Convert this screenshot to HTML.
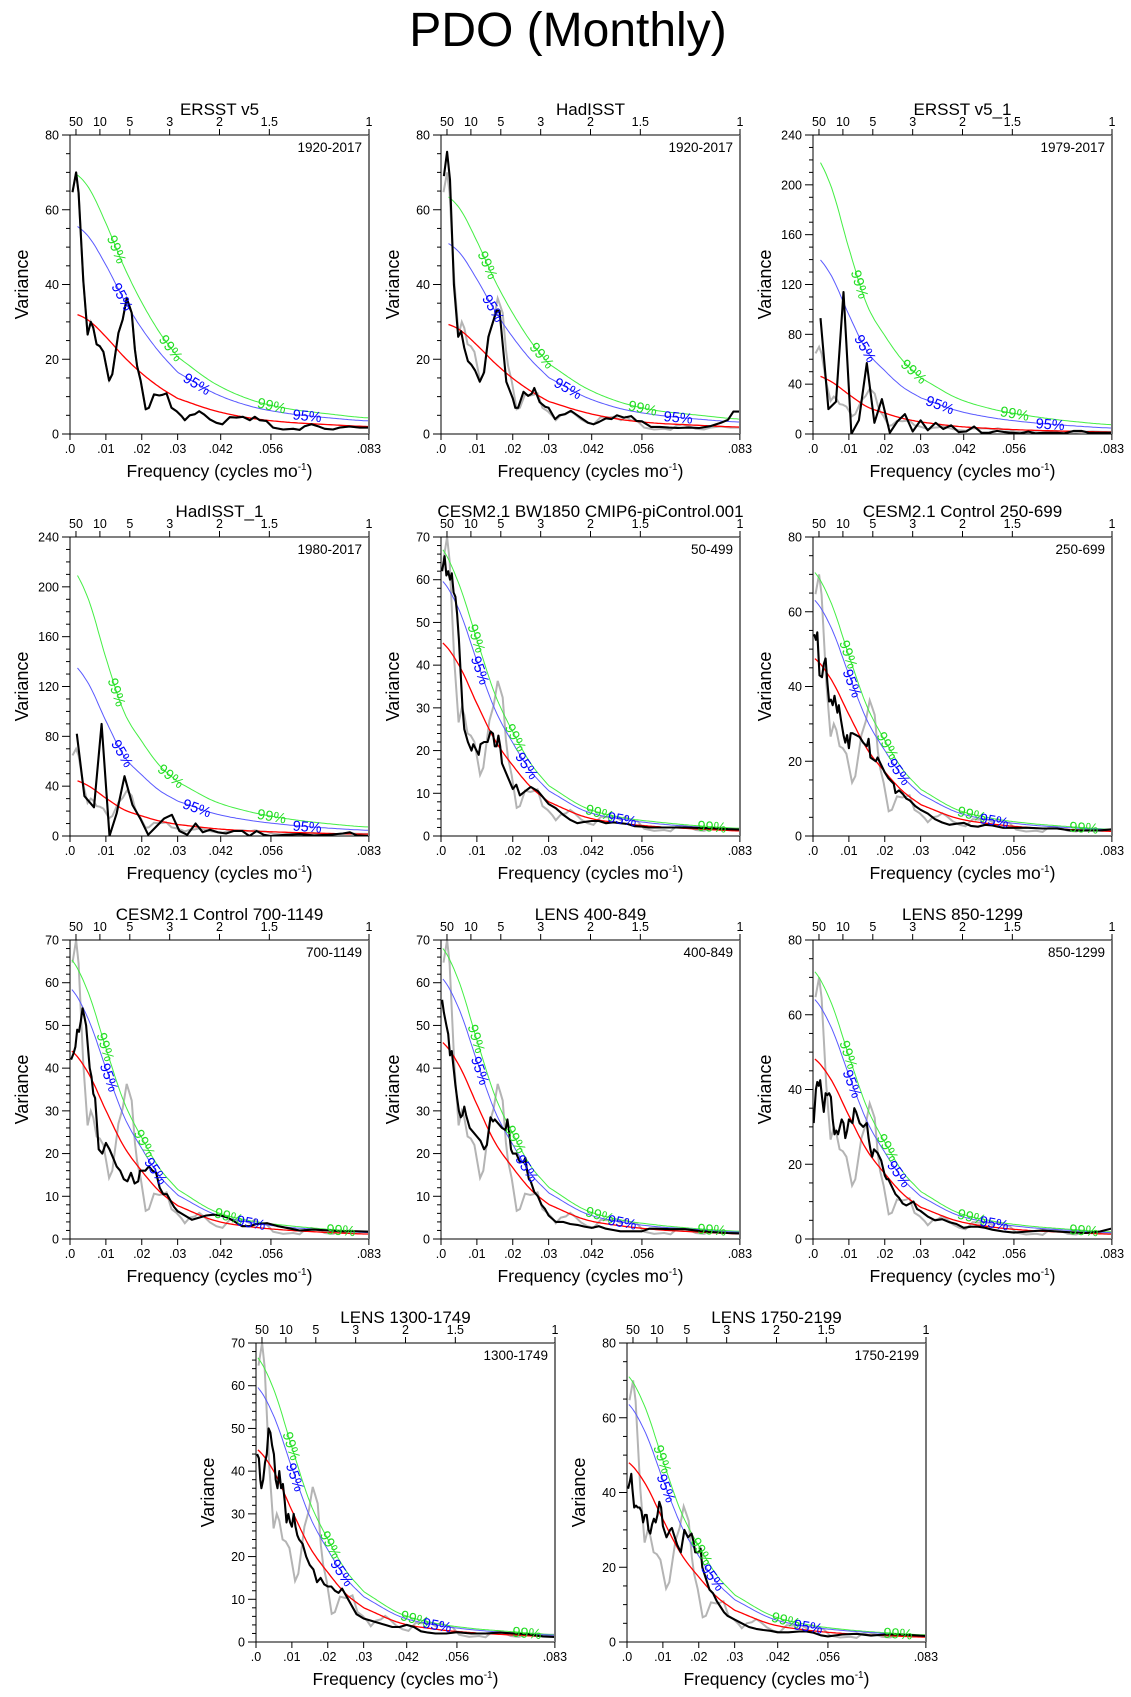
<!DOCTYPE html>
<html><head><meta charset="utf-8"><style>
html,body{margin:0;padding:0;background:#fff;}
svg{display:block;font-family:"Liberation Sans",sans-serif;}
</style></head><body>
<svg id="fig" width="1131" height="1697" viewBox="0 0 1131 1697" xmlns="http://www.w3.org/2000/svg">
<rect width="1131" height="1697" fill="#fff"/>
<text x="568" y="46" font-size="48" text-anchor="middle">PDO (Monthly)</text>
</svg>
<script>
// ---------- shared data ----------
const confFreq = [0,.005,.01,.015,.02,.025,.03,.04,.05,.06,.07,.0833];
const xTickValues = [0,.01,.02,.03,.042,.056,.0833];
const xTickLabels = [".0",".01",".02",".03",".042",".056",".083"];
const periodTicks = [50,10,5,3,2,1.5,1];
const obsLabelF99 = [.0125,.028,.056];
const obsLabelF95 = [.0145,.035,.066];
const modLabelF99 = [.0095,.0205,.044,.075];
const modLabelF95 = [.0105,.0235,.0505];
// reference ERSST v5 spectrum (gray)
const grayErsst = [[.0007,64.7],[.0017,70],[.0024,64.5],[.0037,41],[.0049,26.6],[.0058,30],[.0065,28.4],[.0074,24],[.0083,23.5],[.0093,22],[.0109,14.3],[.0118,16],[.0135,27],[.0147,30.6],[.0158,36.3],[.0165,34.4],[.0172,32.4],[.0181,22.6],[.0187,18.2],[.0197,14.2],[.0211,6.6],[.022,7],[.0234,10.6],[.0249,10.3],[.0258,10.5],[.0269,10.9],[.0283,7],[.0297,6.1],[.0311,4.8],[.032,3.7],[.0334,5],[.0348,5.3],[.036,6.1],[.0373,5.3],[.039,3.9],[.0408,3],[.0425,2.6],[.0445,4.5],[.0464,4.4],[.0482,4.6],[.0501,3.7],[.0515,4.6],[.0529,3.7],[.0547,3.5],[.0566,1.7],[.0594,1.2],[.0622,1.4],[.064,1.1],[.0654,2.1],[.0673,2.6],[.0691,2.1],[.071,1.4],[.0733,1.2],[.0751,1.7],[.0779,2],[.0807,1.7],[.0833,1.7]];
// ---------- panel spectra (black) ----------
const blackHadisst = [[.0008,69],[.0017,75.5],[.0025,68],[.0036,40],[.0048,26],[.0056,27.5],[.0065,23],[.0075,19.5],[.0085,18.5],[.0095,17],[.0108,14],[.012,16.5],[.0132,26],[.0145,30],[.0155,33],[.0163,33],[.0172,24],[.0182,14],[.019,12],[.02,9.5],[.0207,7],[.0215,7],[.023,11.3],[.0243,10.2],[.0253,10.8],[.026,12.3],[.0275,8.5],[.029,7.3],[.03,7],[.0318,4],[.033,5],[.0345,5.3],[.0362,6.2],[.038,5],[.0395,4],[.041,3],[.0425,2.6],[.044,3.2],[.046,4.2],[.0475,4],[.049,5],[.051,4.4],[.053,4.8],[.0545,3.5],[.056,3.4],[.0585,1.9],[.061,1.9],[.0635,1.7],[.066,1.6],[.069,1.7],[.072,1.6],[.075,2.1],[.078,3],[.080,3.8],[.0815,6],[.0833,6]];
const blackErsst1 = [[.0021,93],[.0043,20],[.0064,26],[.0085,114],[.0107,0],[.0128,11],[.015,57],[.0171,9],[.0192,28],[.0214,1],[.0235,10],[.0256,16],[.0278,2],[.03,11],[.032,3],[.0342,9],[.0363,4],[.0385,7],[.0406,1.5],[.0427,2],[.0449,6],[.047,1],[.049,1],[.0513,2.5],[.0534,1.5],[.0556,1],[.0577,.5],[.06,2],[.062,.5],[.064,1],[.066,1],[.068,1],[.070,.5],[.0727,2.5],[.0748,2.5],[.077,1],[.079,1],[.0833,1]];
const blackHadisst1 = [[.0019,82],[.004,32],[.0067,23],[.0088,90],[.011,0],[.013,18],[.0152,48],[.0174,25],[.0196,14],[.0218,1],[.0242,8],[.0262,14],[.0284,17],[.0305,4],[.0327,1],[.035,10],[.037,3],[.039,5],[.0412,3],[.0435,2],[.0456,4],[.048,4],[.050,0],[.052,4],[.054,1],[.056,0],[.060,1],[.064,1.5],[.068,.5],[.072,1],[.076,2],[.078,3],[.080,.5],[.0833,0]];
const blackBw1850 = [[.0003,62],[.001,65.5],[.0015,61],[.002,62],[.0025,60],[.003,61.5],[.0035,57],[.004,56],[.0045,52],[.005,46],[.0055,38],[.006,30],[.0065,25],[.0075,22],[.0085,20],[.009,21.5],[.0105,19],[.011,21.5],[.012,22],[.013,22],[.0138,24.5],[.0145,24],[.015,21],[.0155,21],[.016,23.5],[.0165,21],[.017,17],[.0185,14],[.0195,12],[.02,11],[.021,12],[.022,9.5],[.0235,10.5],[.025,11.5],[.027,10.5],[.0285,9],[.03,7.5],[.032,6.5],[.034,5],[.036,3.8],[.038,3],[.04,3.3],[.042,3.5],[.044,3.5],[.046,3],[.048,3.2],[.05,3],[.052,2.8],[.054,2.3],[.056,2.2],[.058,2],[.06,2],[.064,2],[.068,2],[.072,1.9],[.076,1.8],[.080,1.6],[.0833,1.5]];
const blackCtl250 = [[.0003,54],[.0008,52.5],[.0012,54.5],[.0018,43],[.0025,42.5],[.003,46],[.0035,47.5],[.004,41],[.0045,36],[.005,36.5],[.0055,35],[.006,37.5],[.0068,33],[.0072,35],[.0078,31],[.0085,27],[.009,25],[.0095,27],[.01,23.5],[.0105,27.5],[.011,27.5],[.012,27],[.013,26.5],[.014,25],[.015,24],[.0155,26],[.016,21],[.0175,20],[.018,21],[.019,19],[.02,17],[.021,15.5],[.0225,14],[.023,11.5],[.024,12.2],[.025,11.3],[.026,10],[.027,9.5],[.0285,8],[.03,7],[.032,6],[.034,4.5],[.036,3.6],[.038,3],[.04,3.3],[.042,3.5],[.044,2.7],[.046,2.5],[.048,3],[.05,2.8],[.053,2.2],[.056,2.2],[.06,2.2],[.064,2],[.068,2],[.072,1.5],[.076,1.5],[.080,1.5],[.0833,1.8]];
const blackCtl700 = [[.0003,42],[.001,43.5],[.0015,45],[.002,49],[.0025,48.5],[.003,51],[.0035,54],[.004,52],[.0045,50],[.005,45],[.0055,40],[.006,38],[.0065,34],[.007,33],[.0075,27],[.008,21],[.009,20],[.01,22.5],[.011,21],[.012,19],[.013,17],[.014,16],[.015,14],[.016,13.5],[.017,15.5],[.018,13],[.019,13.5],[.0195,16],[.021,16],[.022,17],[.023,16],[.024,15.5],[.025,12],[.026,10.5],[.027,10.5],[.028,9],[.029,7.5],[.03,6.5],[.032,5.5],[.034,4.5],[.036,5],[.038,5.5],[.04,5.7],[.042,5.5],[.044,5],[.046,4],[.048,3],[.05,3],[.052,3.5],[.055,3.7],[.058,3],[.061,2.5],[.064,2],[.068,2.2],[.072,2],[.076,1.8],[.080,1.8],[.0833,1.7]];
const blackLens400 = [[.0003,56],[.0008,53],[.0015,50],[.002,48],[.0025,43],[.003,44],[.0035,40],[.004,36],[.0045,33],[.005,30],[.0055,28.5],[.006,29],[.0065,31],[.007,29],[.008,26],[.009,25],[.01,24],[.011,23],[.012,21],[.0128,22],[.0138,28.5],[.0145,27.5],[.015,28],[.016,27],[.017,26],[.018,25.5],[.0185,28],[.019,25],[.0195,21],[.02,20],[.021,20],[.022,18],[.023,18],[.0235,19],[.024,16],[.0245,14],[.025,13.5],[.026,11],[.027,10],[.028,8],[.029,7],[.03,5.5],[.032,4],[.034,4],[.036,3.5],[.038,3.3],[.04,2.9],[.042,2.6],[.044,3],[.046,2.4],[.048,2.1],[.05,1.8],[.053,1.8],[.056,1.8],[.058,2.4],[.06,2.4],[.064,2.3],[.068,2.3],[.072,1.9],[.076,1.6],[.080,1.4],[.0833,1.3]];
const blackLens850 = [[.0002,31],[.0008,40],[.0012,42],[.0016,41],[.002,42.5],[.0025,38],[.003,34],[.0035,39],[.004,38.5],[.0045,39],[.005,38],[.0055,32],[.006,28],[.0065,29],[.007,28],[.008,32],[.0085,31],[.009,27],[.0095,29],[.01,32],[.011,31],[.0115,35],[.012,34],[.013,31],[.014,30],[.015,31],[.0155,27],[.016,24],[.0165,22],[.017,24],[.018,23],[.019,21],[.02,17],[.0205,16],[.021,16],[.022,14],[.023,12],[.024,11],[.025,9.5],[.026,9],[.027,9.5],[.028,10],[.029,8],[.03,7.5],[.032,6],[.034,5],[.036,5.3],[.038,4.5],[.04,4],[.042,3],[.044,3.3],[.046,3.3],[.048,3],[.05,2.5],[.053,2],[.056,1.7],[.06,2],[.064,2.3],[.068,2],[.072,1.8],[.076,1.6],[.080,2],[.0833,2.8]];
const blackLens1300 = [[.0003,44],[.0008,43],[.0012,38],[.0015,36],[.002,38],[.0025,42],[.003,44],[.0035,50],[.004,49],[.0045,46],[.005,44],[.0055,38],[.006,36],[.0065,40],[.007,36],[.0075,37],[.008,33],[.0085,28],[.009,30],[.0095,28],[.01,27],[.0105,30],[.011,27],[.0115,25],[.012,24],[.013,23],[.014,20],[.015,18],[.016,17],[.017,14],[.018,15],[.019,13.5],[.02,13],[.021,13],[.022,12],[.023,11.5],[.024,12.5],[.025,11],[.026,9.5],[.027,8],[.028,6.5],[.029,6],[.03,5.5],[.032,5],[.034,4.5],[.036,4],[.038,3.5],[.04,3.5],[.042,4],[.044,3.5],[.046,2.5],[.048,2.2],[.05,2],[.053,2],[.056,2.3],[.06,2],[.064,2],[.068,2.2],[.072,2],[.076,1.8],[.08,1.3],[.0833,1.2]];
const blackLens1750 = [[.0003,41],[.0008,43],[.0012,45],[.0015,41],[.002,36],[.0025,36.5],[.003,36],[.0035,36],[.004,35],[.0045,32],[.005,34],[.0055,34],[.006,30],[.0065,29],[.007,31.5],[.0075,33],[.008,32],[.0085,34],[.009,37.5],[.0095,36],[.01,31],[.011,28],[.012,30],[.0125,30.5],[.013,29],[.014,26],[.015,24],[.016,30],[.017,28],[.018,29],[.0185,27],[.019,24],[.02,24],[.0205,25],[.021,20],[.022,17],[.023,14],[.024,13],[.025,11],[.026,9.5],[.027,8],[.028,7],[.029,6.5],[.03,6],[.032,5],[.034,4],[.036,3.5],[.038,3.2],[.04,3],[.042,2.6],[.045,2.6],[.048,2.8],[.05,2.8],[.052,2.5],[.054,1.8],[.056,1.5],[.06,2],[.064,2.2],[.068,1.7],[.072,2],[.076,2],[.08,1.8],[.0833,1.6]];
// ---------- red-noise and confidence curves (values at confFreq) ----------
const red1=[32.5,30.5,26,20.7,16.2,12.5,9.5,6.3,4.3,3.2,2.6,2.0];
const c95_1=[56.5,53,45.2,36,28.2,21.8,16.5,11,7.5,5.6,4.5,3.5];
const c99_1=[70.5,66.2,56.4,44.9,35.2,27.1,20.6,13.7,9.3,6.9,5.6,4.3];
const red2=[29.8,28,23.8,19,14.9,11.5,8.7,5.8,3.9,2.9,2.4,1.85];
const c95_2=[51.8,48.7,41.4,33,25.9,19.9,15.1,10,6.8,5.1,4.1,3.2];
const c99_2=[64.5,60.6,51.6,41.1,32.3,24.8,18.8,12.5,8.5,6.3,5.2,4];
const red3=[48,42.2,31.7,22,16.8,12.5,9.6,6.2,4.3,3.1,2.3,1.6];
const c95_3=[145,127.6,95.7,66.7,50.8,37.7,29,18.9,13,9.4,7,4.8];
const c99_3=[226,199,149,104,79,59,45,29,20,14.7,10.8,7.5];
const red4=[46,40.5,30.4,21.2,16.1,12,9.2,6,4.1,3,2.2,1.5];
const c95_4=[140,123,92.4,64.4,49,36.4,28,18.2,12.6,9.1,6.7,4.6];
const c99_4=[217,191,143,100,76,56.4,43.4,28.2,19.5,14.1,10.4,7.2];
const red5=[45.5,40,31,22.5,16.5,11.5,8,4.5,3,2.2,1.7,1.2];
const c95_5=[60,53,41,29.7,21.8,15.2,10.6,5.9,4,2.9,2.2,1.6];
const c99_5=[67.5,59,46,33.3,24.4,17,11.8,6.7,4.4,3.3,2.5,1.8];
const red6=[47.8,42,32.5,23.4,17.2,12,8.4,4.8,3.2,2.3,1.8,1.25];
const c95_6=[63.5,55.9,43.2,31.1,22.9,15.9,11.2,6.4,4.2,3,2.3,1.7];
const c99_6=[71,62.5,48.3,34.8,25.6,17.8,12.5,7.1,4.7,3.4,2.6,1.8];
const red7=[44.3,39,30.1,21.7,15.9,11.1,7.8,4.4,2.9,2.1,1.6,1.15];
const c95_7=[58.8,51.7,40,28.8,21.2,14.7,10.3,5.9,3.9,2.8,2.2,1.5];
const c99_7=[65.8,57.9,44.7,32.2,23.7,16.5,11.6,6.6,4.3,3.2,2.4,1.7];
const red8=[46.3,40.7,31.5,22.7,16.7,11.6,8.1,4.6,3.1,2.2,1.7,1.2];
const c95_8=[61.3,53.9,41.7,30,22.1,15.3,10.8,6.1,4,2.9,2.3,1.6];
const c99_8=[68.5,60.3,46.6,33.6,24.7,17.1,12.1,6.9,4.5,3.3,2.5,1.8];
const red9=[48.5,42.7,33,23.8,17.5,12.1,8.5,4.9,3.2,2.3,1.8,1.3];
const c95_9=[64.5,56.8,43.9,31.6,23.2,16.1,11.4,6.5,4.3,3.1,2.4,1.7];
const c99_9=[72,63.4,49,35.3,25.9,18,12.7,7.2,4.8,3.5,2.7,1.9];
const red10=[45.3,39.9,30.8,22.2,16.3,11.3,8,4.5,3,2.2,1.7,1.2];
const c95_10=[60,52.8,40.8,29.4,21.6,15,10.6,6,4,2.9,2.2,1.6];
const c99_10=[67,59,45.6,32.8,24.1,16.8,11.8,6.7,4.4,3.2,2.5,1.7];
const red11=[48.3,42.5,32.8,23.7,17.4,12.1,8.5,4.8,3.2,2.3,1.8,1.3];
const c95_11=[64,56.3,43.5,31.4,23,16,11.3,6.4,4.2,3.1,2.4,1.7];
const c99_11=[71.5,62.9,48.6,35,25.7,17.9,12.6,7.2,4.7,3.4,2.6,1.9];
const panelTitles=["ERSST v5","HadISST","ERSST v5_1","HadISST_1","CESM2.1 BW1850 CMIP6-piControl.001","CESM2.1 Control 250-699","CESM2.1 Control 700-1149","LENS 400-849","LENS 850-1299","LENS 1300-1749","LENS 1750-2199"];
const panelRanges=["1920-2017","1920-2017","1979-2017","1980-2017","50-499","250-699","700-1149","400-849","850-1299","1300-1749","1750-2199"];
const panelYMax=[80,80,240,240,70,80,70,70,80,70,80];
const panelYStep=[20,20,40,40,10,20,10,10,20,10,20];
const panelYMinor=[5,5,10,10,2,5,2,2,5,2,5];

// ---------- layout ----------
const W=299,H=299,FMAX=1/12;
const layout=[[70,135],[441,135],[813,135],[70,537],[441,537],[813,537],[70,940],[441,940],[813,940],[256,1343],[627,1343]];
const blacks=[grayErsst,blackHadisst,blackErsst1,blackHadisst1,blackBw1850,blackCtl250,blackCtl700,blackLens400,blackLens850,blackLens1300,blackLens1750];
const reds=[red1,red2,red3,red4,red5,red6,red7,red8,red9,red10,red11];
const c95s=[c95_1,c95_2,c95_3,c95_4,c95_5,c95_6,c95_7,c95_8,c95_9,c95_10,c95_11];
const c99s=[c99_1,c99_2,c99_3,c99_4,c99_5,c99_6,c99_7,c99_8,c99_9,c99_10,c99_11];

const NS="http://www.w3.org/2000/svg";
const svg=document.getElementById('fig');
function mk(tag,attrs,parent){const e=document.createElementNS(NS,tag);for(const k in attrs)e.setAttribute(k,attrs[k]);(parent||svg).appendChild(e);return e;}

function smooth(xs,ys,n){
  const pts=[];
  const xmin=xs[0],xmax=xs[xs.length-1];
  for(let i=0;i<=n;i++){
    const x=xmin+(xmax-xmin)*i/n;
    let k=0;while(k<xs.length-2&&x>xs[k+1])k++;
    const x0=xs[k],x1=xs[k+1];const t=(x-x0)/(x1-x0);
    const p0=ys[Math.max(k-1,0)],p1=ys[k],p2=ys[k+1],p3=ys[Math.min(k+2,ys.length-1)];
    const m1=(p2-p0)/2,m2=(p3-p1)/2;
    const t2=t*t,t3=t2*t;
    const y=(2*t3-3*t2+1)*p1+(t3-2*t2+t)*m1+(-2*t3+3*t2)*p2+(t3-t2)*m2;
    pts.push([x,y]);
  }
  return pts;
}

for(let p=0;p<11;p++){
  const [L,T]=layout[p];
  const ymax=panelYMax[p];
  const sx=f=>L+f/FMAX*W;
  const sy=v=>T+H-v/ymax*H;
  const g=mk('g',{});
  
  
  const clipId='clip'+p;
  const cp=mk('clipPath',{id:clipId},g);mk('rect',{x:L,y:T,width:W,height:H},cp);
  // titles
  const tt=mk('text',{x:L+W/2,y:T-20,'font-size':17,'text-anchor':'middle'},g);tt.textContent=panelTitles[p];
  
  
  const rt=mk('text',{x:L+W-7,y:T+17,'font-size':13.5,'text-anchor':'end'},g);rt.textContent=panelRanges[p];
  
  
  // y axis ticks
  for(let v=0;v<=ymax+1e-9;v+=panelYMinor[p]){
    const major=Math.abs(v/panelYStep[p]-Math.round(v/panelYStep[p]))<1e-6;
    mk('line',{x1:L-(major?8:4),x2:L,y1:sy(v),y2:sy(v),stroke:'#000','stroke-width':1},g);
    if(major){const t=mk('text',{x:L-11,y:sy(v)+4.5,'font-size':12.5,'text-anchor':'end'},g);t.textContent=String(v);
      
      }
  }
  // x ticks
  for(let i=0;i<xTickValues.length;i++){
    const x=sx(xTickValues[i]);
    mk('line',{x1:x,x2:x,y1:T+H,y2:T+H+6,stroke:'#000','stroke-width':1},g);
    const t=mk('text',{x:x,y:T+H+19,'font-size':12.5,'text-anchor':'middle'},g);t.textContent=xTickLabels[i];
    
    
  }
  // top period ticks
  for(const per of periodTicks){
    const x=sx(1/(12*per));
    mk('line',{x1:x,x2:x,y1:T-6,y2:T,stroke:'#000','stroke-width':1},g);
    const t=mk('text',{x:x,y:T-9,'font-size':12.5,'text-anchor':'middle'},g);t.textContent=String(per);
    
    
  }
  // axis titles
  const xt=mk('text',{x:L+W/2,y:T+H+43,'font-size':17.5,'text-anchor':'middle'},g);
  xt.innerHTML='Frequency (cycles mo<tspan font-size="10" dy="-7">-1</tspan><tspan dy="7">)</tspan>';
  
  
  const yt=mk('text',{x:0,y:0,'font-size':18,'text-anchor':'middle',transform:`translate(${L-42},${T+H/2}) rotate(-90)`},g);yt.textContent='Variance';
  
  

  const lines=mk('g',{'clip-path':`url(#${clipId})`},g);
  const path=pts=>pts.map((q,i)=>(i?'L':'M')+sx(q[0]).toFixed(1)+' '+sy(q[1]).toFixed(1)).join(' ');
  // gray reference
  const gp=mk('path',{d:path(grayErsst),fill:'none',stroke:'#b4b4b4','stroke-width':2},lines);
  
  
  const obs=p<4;
  const f0=obs?.0017:.0003;
  function curve(arr,color,w,name){
    const pts=smooth(confFreq,arr,160).filter(q=>q[0]>=f0);
    const e=mk('path',{d:path(pts),fill:'none',stroke:color,'stroke-width':w},lines);
    
    
    return pts;
  }
  const p99=curve(c99s[p],'#44ee44',1,'ci-99-line');
  const p95=curve(c95s[p],'#5a5aff',1,'ci-95-line');
  curve(reds[p],'#ff0000',1.3,'red-noise-line');
  const bp=mk('path',{d:path(blacks[p]),fill:'none',stroke:'#000','stroke-width':2.1,'stroke-linejoin':'round'},lines);
  
  
  // curve labels
  function labels(pts,fs,txt,color){
    for(const f of fs){
      let k=pts.findIndex(q=>q[0]>=f);if(k<1)k=1;
      const a=pts[k-1],b=pts[k];
      const ang=Math.atan2(sy(b[1])-sy(a[1]),sx(b[0])-sx(a[0]))*180/Math.PI;
      const t=mk('text',{x:0,y:0,'font-size':14.5,fill:color,'text-anchor':'middle',transform:`translate(${sx(b[0]).toFixed(1)},${sy(b[1]).toFixed(1)}) rotate(${ang.toFixed(1)}) translate(0,5)`},g);
      t.textContent=txt;
      
      
    }
  }
  labels(p99,obs?obsLabelF99:modLabelF99,'99%','#22dd22');
  labels(p95,obs?obsLabelF95:modLabelF95,'95%','#0000ff');
  // frame
  mk('line',{x1:L,x2:L+W,y1:T,y2:T,stroke:'#000','stroke-width':1},g);
  mk('line',{x1:L,x2:L+W,y1:T+H,y2:T+H,stroke:'#000','stroke-width':1},g);
  mk('line',{x1:L,x2:L,y1:T,y2:T+H,stroke:'#000','stroke-width':1},g);
  mk('line',{x1:L+W,x2:L+W,y1:T,y2:T+H,stroke:'#777','stroke-width':2},g);
}
</script>
</body></html>
